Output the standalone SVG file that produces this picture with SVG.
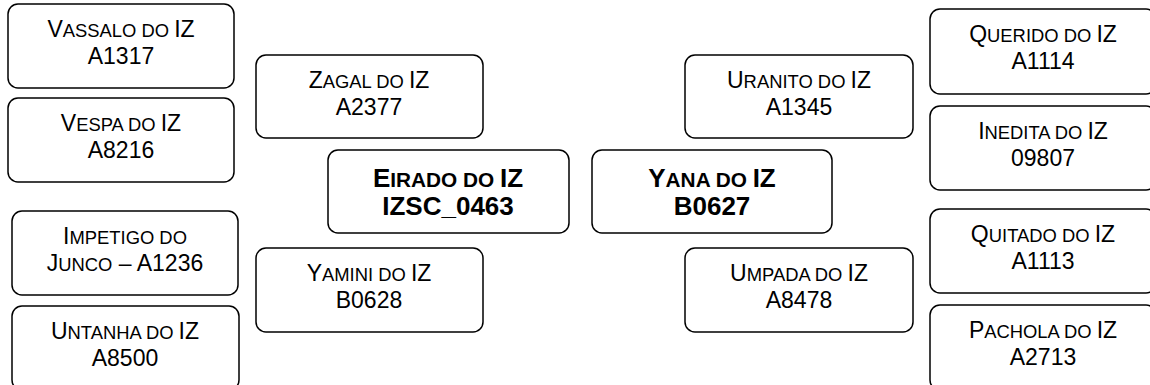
<svg xmlns="http://www.w3.org/2000/svg" width="1150" height="385" viewBox="0 0 1150 385">
<style>
.box{fill:#fff;stroke:#000;stroke-width:1.5}
.t{font-family:"Liberation Sans",Arial,sans-serif;font-size:23px;fill:#000;text-anchor:middle}
.sc{font-size:18.4px}
.b{font-weight:bold;font-size:26px}
.b .sc{font-size:20.8px}
</style>
<rect width="1150" height="385" fill="#fff"/>
<g id="connectors"></g>
<g id="vassalo"><rect class="box" x="8" y="4" width="226" height="84" rx="10"/><text class="t"><tspan x="121" y="37">V<tspan class="sc">ASSALO DO </tspan>IZ</tspan><tspan x="121" y="64">A1317</tspan></text></g>
<g id="vespa"><rect class="box" x="8" y="98" width="226" height="84" rx="10"/><text class="t"><tspan x="121" y="131">V<tspan class="sc">ESPA DO </tspan>IZ</tspan><tspan x="121" y="158">A8216</tspan></text></g>
<g id="impetigo"><rect class="box" x="12" y="211" width="226" height="84" rx="10"/><text class="t"><tspan x="125" y="244">I<tspan class="sc">MPETIGO DO</tspan></tspan><tspan x="125" y="271">J<tspan class="sc">UNCO</tspan> – A1236</tspan></text></g>
<g id="untanha"><rect class="box" x="12" y="306" width="227" height="84" rx="10"/><text class="t"><tspan x="125" y="339">U<tspan class="sc">NTANHA DO </tspan>IZ</tspan><tspan x="125" y="366">A8500</tspan></text></g>
<g id="zagal"><rect class="box" x="256" y="55" width="227" height="83" rx="10"/><text class="t"><tspan x="369" y="88">Z<tspan class="sc">AGAL DO </tspan>IZ</tspan><tspan x="369" y="115">A2377</tspan></text></g>
<g id="yamini"><rect class="box" x="256" y="248" width="227" height="84" rx="10"/><text class="t"><tspan x="369" y="281">Y<tspan class="sc">AMINI DO </tspan>IZ</tspan><tspan x="369" y="308">B0628</tspan></text></g>
<g id="eirado"><rect class="box" x="328" y="150" width="241" height="83" rx="10"/><text class="t b"><tspan x="448" y="187">E<tspan class="sc">IRADO DO </tspan>IZ</tspan><tspan x="448" y="215">IZSC_0463</tspan></text></g>
<g id="yana"><rect class="box" x="592" y="150" width="240" height="83" rx="10"/><text class="t b"><tspan x="712" y="187">Y<tspan class="sc">ANA DO </tspan>IZ</tspan><tspan x="712" y="215">B0627</tspan></text></g>
<g id="uranito"><rect class="box" x="685" y="55" width="228" height="83" rx="10"/><text class="t"><tspan x="799" y="88">U<tspan class="sc">RANITO DO </tspan>IZ</tspan><tspan x="799" y="115">A1345</tspan></text></g>
<g id="umpada"><rect class="box" x="685" y="248" width="228" height="84" rx="10"/><text class="t"><tspan x="799" y="281">U<tspan class="sc">MPADA DO </tspan>IZ</tspan><tspan x="799" y="308">A8478</tspan></text></g>
<g id="querido"><rect class="box" x="930" y="9" width="226" height="85" rx="10"/><text class="t"><tspan x="1043" y="42">Q<tspan class="sc">UERIDO DO </tspan>IZ</tspan><tspan x="1043" y="69">A1114</tspan></text></g>
<g id="inedita"><rect class="box" x="930" y="106" width="226" height="84" rx="10"/><text class="t"><tspan x="1043" y="139">I<tspan class="sc">NEDITA DO </tspan>IZ</tspan><tspan x="1043" y="166">09807</tspan></text></g>
<g id="quitado"><rect class="box" x="930" y="209" width="226" height="84" rx="10"/><text class="t"><tspan x="1043" y="242">Q<tspan class="sc">UITADO DO </tspan>IZ</tspan><tspan x="1043" y="269">A1113</tspan></text></g>
<g id="pachola"><rect class="box" x="930" y="305" width="226" height="85" rx="10"/><text class="t"><tspan x="1043" y="338">P<tspan class="sc">ACHOLA DO </tspan>IZ</tspan><tspan x="1043" y="365">A2713</tspan></text></g>
</svg>
